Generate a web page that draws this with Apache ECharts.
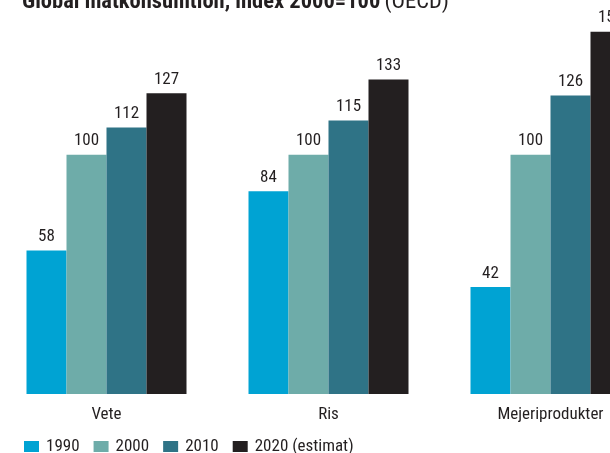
<!DOCTYPE html>
<html>
<head>
<meta charset="utf-8">
<script src="https://cdn.jsdelivr.net/npm/echarts@6/dist/echarts.min.js"></script>
<style>
html,body{margin:0;padding:0;background:#fff;}
#chart{width:610px;height:453px;}
</style>
</head>
<body>
<div id="chart"></div>
<script>
const categories = ['Vete', 'Ris', 'Mejeriprodukter'];
const seriesNames = ['1990', '2000', '2010', '2020 (estimat)'];
const values1990 = [58, 84, 42];
const values2000 = [100, 100, 100];
const values2010 = [112, 115, 126];
const values2020 = [127, 133, 154];
const colors = ['#00a3d3', '#6eaca9', '#2f7386', '#231f20'];
const FONT = '"Roboto Condensed", "Liberation Sans", sans-serif';
const textColor = '#231f20';

const allValues = [values1990, values2000, values2010, values2020];

const chart = echarts.init(document.getElementById('chart'), null, {renderer: 'canvas'});
chart.setOption({
  animation: false,
  backgroundColor: '#ffffff',
  color: colors,
  textStyle: {fontFamily: FONT, color: textColor},
  title: {
    left: 22,
    top: -9,
    padding: 0,
    text: '{b|Global matkonsumtion, index 2000=100} {n|(OECD)}',
    textStyle: {
      rich: {
        b: {fontFamily: FONT, fontWeight: 'bold', fontSize: 22.5, color: textColor},
        n: {fontFamily: FONT, fontWeight: 'normal', fontSize: 22.5, color: textColor}
      }
    }
  },
  legend: {
    left: 24,
    top: 438,
    padding: 0,
    icon: 'rect',
    itemWidth: 15,
    itemHeight: 11,
    itemGap: 14,
    textStyle: {fontFamily: FONT, fontSize: 17, color: textColor, padding: [0, 0, 0, 2]},
    data: seriesNames
  },
  grid: {left: -4.5, width: 666, top: 18, bottom: 59, outerBoundsMode: 'none'},
  xAxis: {
    type: 'category',
    data: categories,
    axisLine: {show: false},
    axisTick: {show: false},
    axisLabel: {fontFamily: FONT, fontSize: 17, color: textColor, margin: 12}
  },
  yAxis: {
    type: 'value',
    min: -5,
    max: 160,
    startValue: -5,
    show: false,
    splitLine: {show: false}
  },
  series: seriesNames.map((name, i) => ({
    name: name,
    type: 'bar',
    data: allValues[i],
    barWidth: 40,
    barGap: '0%',
    clip: false,
    itemStyle: {color: colors[i]},
    label: {
      show: true,
      position: 'top',
      distance: 5,
      fontFamily: FONT,
      fontSize: 17,
      color: textColor
    }
  }))
});
</script>
</body>
</html>
